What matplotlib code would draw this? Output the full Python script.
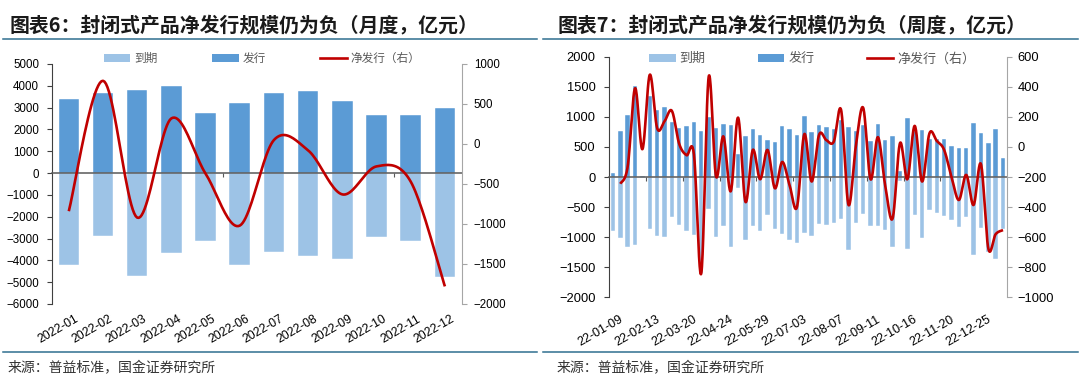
import numpy as np
import pandas as pd
import matplotlib
matplotlib.use('Agg')
from matplotlib import pyplot as plt
from matplotlib.lines import Line2D
from matplotlib.patches import Patch
import matplotlib.transforms as mtransforms

plt.rcParams['font.family'] = ['Liberation Sans', 'Noto Sans CJK SC', 'DejaVu Sans']

# ---- monthly data (chart 6) ----
months = ['2022-01', '2022-02', '2022-03', '2022-04', '2022-05', '2022-06',
          '2022-07', '2022-08', '2022-09', '2022-10', '2022-11', '2022-12']
issue_m = [3380, 3680, 3790, 4000, 2740, 3210, 3680, 3740, 3300, 2650, 2660, 2980]
mature_m = [-4220, -2890, -4710, -3680, -3110, -4230, -3630, -3820, -3930, -2930, -3130, -4760]
net_m = [-840, 790, -920, 320, -370, -1020, 50, -80, -630, -280, -470, -1780]

# ---- weekly data (chart 7), weeks ending 22-01-09 .. 23-01-15 ----
weeks = list(pd.date_range('2022-01-09', periods=54, freq='7D').strftime('%y-%m-%d'))
issue_w = [60, 770, 1030, 1520, 10, 1340, 1110, 1160, 910, 820,
           850, 915, 760, 1000, 810, 880, 860, 380, 675, 790,
           690, 615, 590, 850, 790, 700, 1020, 750, 860, 835,
           805, 945, 825, 765, 870, 605, 885, 620, 685, 95,
           975, 770, 780, 635, 640, 630, 520, 475, 475, 905,
           725, 565, 790, 320]
mature_w = [-900, -1015, -1160, -1130, -20, -865, -985, -990, -670, -800,
            -905, -965, -1600, -535, -1005, -810, -1160, -185, -1040, -810,
            -905, -635, -865, -955, -1045, -1100, -935, -980, -780, -790,
            -770, -700, -1210, -760, -610, -820, -820, -880, -1160, -70,
            -1190, -630, -1010, -545, -600, -650, -720, -830, -660, -1290,
            -840, -1240, -1370, -870]
# net issuance line starts from the second week
net_w = [-245, -130, 390, -15, 480, 125, 170, 240, 20,
         -55, -50, -840, 465, -195, 70, -295, 195, -365, -20,
         -215, -20, -275, -100, -255, -400, 85, -230, 80, 45,
         35, 245, -385, 5, 260, -215, 65, -260, -475, 25,
         -215, 140, -230, 90, 40, -20, -200, -353, -186, -386,
         -114, -675, -580, -553]

C_MAT = '#9DC3E6'
C_ISS = '#5B9BD5'
C_NET = '#C00000'
C_RULE = '#2F6F8F'


def smooth(x, y, n=24):
    # bezier through points, like the spreadsheet "smoothed line"
    x = np.asarray(x, float)
    y = np.asarray(y, float)
    px = np.concatenate([[x[0]], x, [x[-1]]])
    py = np.concatenate([[y[0]], y, [y[-1]]])
    t = np.linspace(0, 1, n)[:, None]
    out = []
    for i in range(1, len(px) - 2):
        p0 = np.array([px[i - 1], py[i - 1]])
        p1 = np.array([px[i], py[i]])
        p2 = np.array([px[i + 1], py[i + 1]])
        p3 = np.array([px[i + 2], py[i + 2]])
        c1 = p1 + (p2 - p0) / 6.0
        c2 = p2 - (p3 - p1) / 6.0
        seg = ((1 - t) ** 3) * p1 + 3 * ((1 - t) ** 2) * t * c1 + 3 * (1 - t) * t ** 2 * c2 + t ** 3 * p2
        out.append(seg if i == 1 else seg[1:])
    out = np.vstack(out)
    return out[:, 0], out[:, 1]


def panel(fig, rect, cats, issue, mature, net, net_start, ylim, ystep, y2lim, y2step,
          every, fs, fsx, lab_pad, lpad, rpad):
    ax = fig.add_axes(rect)
    x = np.arange(len(cats))
    ax.bar(x, mature, width=0.6, color=C_MAT, edgecolor='white', linewidth=0.3, zorder=1)
    ax.bar(x, issue, width=0.6, color=C_ISS, edgecolor='white', linewidth=0.3, zorder=1)
    ax.set_xlim(-0.5, len(cats) - 0.5)
    ax.set_ylim(*ylim)
    ax.set_yticks(np.arange(ylim[0], ylim[1] + 1, ystep))
    for s in ['top', 'right']:
        ax.spines[s].set_visible(False)
    ax.spines['left'].set_color('#404040')
    ax.spines['bottom'].set_position(('data', 0))
    ax.spines['bottom'].set_color('#595959')
    ax.spines['bottom'].set_linewidth(1.1)
    ax.set_xticks(np.arange(4.5, len(cats) - 1, 5))
    ax.set_xticklabels([])
    ax.tick_params(axis='x', length=3, color='#595959', direction='out')
    ax.tick_params(axis='y', length=3.5, color='#404040', labelsize=fs, pad=lpad)

    sec = ax.secondary_xaxis('bottom')
    sec.spines['bottom'].set_visible(False)
    sec.set_xticks(x[::every])
    sec.set_xticklabels(cats[::every], rotation=30, ha='right', va='top',
                        rotation_mode='anchor', fontsize=fsx)
    sec.tick_params(length=0, pad=lab_pad)
    shift = mtransforms.ScaledTranslation(6 / 100, 0, fig.dpi_scale_trans)
    for lab in sec.get_xticklabels():
        lab.set_transform(lab.get_transform() + shift)

    ax2 = ax.twinx()
    sx, sy = smooth(x[net_start:], net)
    ax2.plot(sx, sy, color=C_NET, lw=1.9, solid_capstyle='butt')
    ax2.set_ylim(*y2lim)
    ax2.set_yticks(np.arange(y2lim[0], y2lim[1] + 1, y2step))
    for s in ['top', 'left', 'bottom']:
        ax2.spines[s].set_visible(False)
    ax2.spines['right'].set_color('#A6A6A6')
    ax2.tick_params(axis='y', length=3.5, color='#A6A6A6', labelsize=fs, pad=rpad)
    return ax, ax2


fig = plt.figure(figsize=(10.8, 3.83), dpi=100)
W, H = 1080.0, 383.0

panel(fig, [51.7 / W, 1 - 304 / H, (462 - 51.7) / W, 240 / H],
      months, issue_m, mature_m, net_m, 0, (-6000, 5000), 1000, (-2000, 1000), 500,
      1, 8.3, 8.8, 6.5, 5.5, 5.0)
panel(fig, [609.3 / W, 1 - 297.3 / H, (1006.7 - 609.3) / W, 240.6 / H],
      weeks, issue_w, mature_w, net_w, 1, (-2000, 2000), 500, (-1000, 600), 200,
      5, 9.3, 9.0, 11.5, 6.5, 4.5)

handles = [Patch(facecolor=C_MAT, edgecolor='none'),
           Patch(facecolor=C_ISS, edgecolor='none'),
           Line2D([], [], color=C_NET, lw=1.9)]
names = ['到期', '发行', '净发行（右）']
fig.legend(handles, names, loc='center', bbox_to_anchor=(262 / W, 1 - 59 / H), ncol=3,
           frameon=False, fontsize=8.4, handlelength=2.28, handleheight=0.6,
           handletextpad=0.3, columnspacing=4.7, labelcolor='#595959')
fig.legend(handles, names, loc='center', bbox_to_anchor=(812 / W, 1 - 59 / H), ncol=3,
           frameon=False, fontsize=9.4, handlelength=2.05, handleheight=0.55,
           handletextpad=0.3, columnspacing=4.0, labelcolor='#595959')

title_font = ['Noto Sans CJK SC', 'DejaVu Sans']
fig.text(10 / W, 1 - 25 / H, '图表6：封闭式产品净发行规模仍为负（月度，亿元）',
         family=title_font, fontsize=14.3, weight='bold', va='center', color='#1a1a1a')
fig.text(558 / W, 1 - 25 / H, '图表7：封闭式产品净发行规模仍为负（周度，亿元）',
         family=title_font, fontsize=14.3, weight='bold', va='center', color='#1a1a1a')

for x0, x1 in [(3, 537), (543, 1078)]:
    for yy in [39.3, 352]:
        fig.add_artist(Line2D([x0 / W, x1 / W], [1 - yy / H, 1 - yy / H],
                              color=C_RULE, lw=1.1, transform=fig.transFigure))

fig.text(8 / W, 1 - 368 / H, '来源：普益标准，国金证券研究所', family=title_font,
         fontsize=10, va='center', color='#333333')
fig.text(557 / W, 1 - 368 / H, '来源：普益标准，国金证券研究所', family=title_font,
         fontsize=10, va='center', color='#333333')

fig.savefig('out.png', dpi=100)
